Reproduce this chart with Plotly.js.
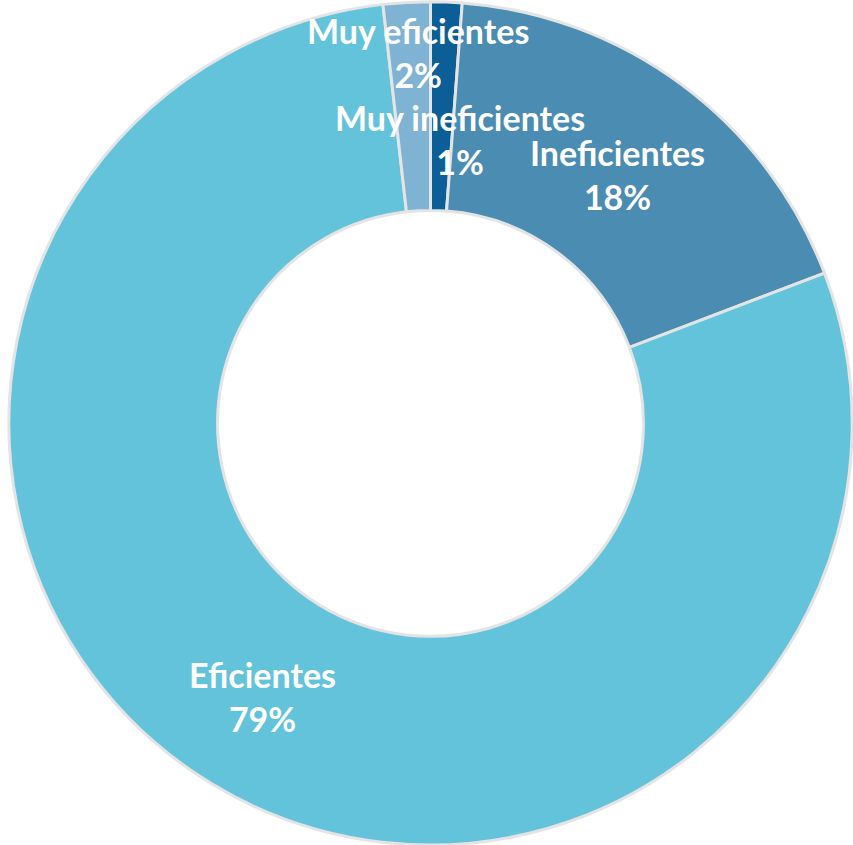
<!DOCTYPE html>
<html>
<head>
<meta charset="utf-8">
<script src="https://cdn.plot.ly/plotly-3.0.1.min.js"></script>
<style>html,body{margin:0;padding:0;background:#fff;}#chart{width:853px;height:845px;}</style>
</head>
<body>
<div id="chart"></div>
<script>
const categories = ["Muy ineficientes", "Ineficientes", "Eficientes", "Muy eficientes"];
const values = [1.2, 18.0, 79.0, 1.8];
const percentLabels = ["1%", "18%", "79%", "2%"];
const colors = ["#0B5E96", "#4A8CB2", "#63C3DB", "#7FB3D3"];

const labelPos = {
  "Muy ineficientes": [460, 139],
  "Ineficientes": [617, 174],
  "Eficientes": [262, 696],
  "Muy eficientes": [418, 53]
};

const W = 853, H = 845;
const annotations = categories.map((c, i) => ({
  xref: "paper", yref: "paper",
  x: labelPos[c][0] / W, y: 1 - labelPos[c][1] / H,
  xanchor: "center", yanchor: "middle",
  text: c + "<br>" + percentLabels[i],
  showarrow: false,
  font: {family: "Lato, 'Open Sans', sans-serif", size: 34, color: "#ffffff", weight: "bold"},
  align: "center"
}));

Plotly.newPlot("chart", [{
  type: "pie",
  labels: categories,
  values: values,
  hole: 0.505,
  sort: false,
  direction: "clockwise",
  rotation: 0,
  textinfo: "none",
  hoverinfo: "label+percent",
  marker: {colors: colors, line: {color: "#E4E4E4", width: 3}},
  domain: {x: [0.0094, 1], y: [0, 0.998]},
  showlegend: false
}], {
  width: W, height: H,
  margin: {l: 0, r: 0, t: 0, b: 0},
  paper_bgcolor: "#ffffff",
  showlegend: false,
  annotations: annotations
}, {displayModeBar: false, staticPlot: true});
</script>
</body>
</html>
